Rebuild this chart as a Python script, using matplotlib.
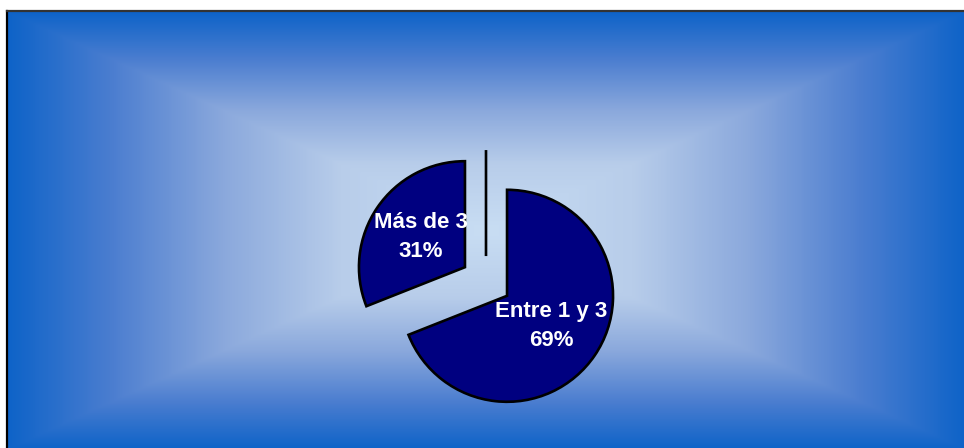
import matplotlib.pyplot as plt
import numpy as np
from matplotlib.colors import LinearSegmentedColormap

plt.rcParams['font.family'] = ['Liberation Sans', 'DejaVu Sans']

# trips per period
categories = ["Entre 1 y 3", "Más de 3", ""]
values = [69, 31, 0]

fig = plt.figure(figsize=(9.64, 4.48), dpi=100)
ax = fig.add_axes([0, 0, 1, 1])

# rectangular "from centre" gradient behind the pie
left, right, bottom, top = 7, 966, -2, 437
nx, ny = 480, 220
gx = np.abs(np.linspace(-1, 1, nx))
gy = np.abs(np.linspace(-1, 1, ny))
grad = np.maximum(gx[None, :], gy[:, None])
cmap = LinearSegmentedColormap.from_list("box", [
    (0.0, (200/255, 221/255, 243/255)),
    (0.3, (184/255, 205/255, 234/255)),
    (0.55, (138/255, 168/255, 220/255)),
    (0.78, (76/255, 126/255, 208/255)),
    (1.0, (14/255, 99/255, 200/255)),
])
ax.imshow(grad, cmap=cmap, extent=(left, right, bottom, top),
          aspect="auto", interpolation="bilinear", zorder=0)
ax.plot([left, left], [bottom, top], color="black", lw=1.6, zorder=1)
ax.plot([left, right], [top, top], color="#333333", lw=1.6, zorder=1)

radius = 106
labels = [f"{c}\n{v / sum(values) * 100:.0f}%" if v else ""
          for c, v in zip(categories, values)]
wedges, texts = ax.pie(
    values, labels=labels, labeldistance=0.5,
    explode=[0.24 * radius] * len(values), startangle=90, counterclock=False,
    center=(486, 166.5), radius=radius, frame=True,
    colors=["#000080"] * len(values),
    wedgeprops=dict(edgecolor="black", linewidth=1.9),
    textprops=dict(color="white", fontsize=16, fontweight="bold",
                   ha="center", va="center", linespacing=1.5),
)
for w in wedges:
    w.set_zorder(2)
for t in texts:
    t.set_zorder(3)

ax.set_xlim(0, 964)
ax.set_ylim(0, 448)
ax.set_aspect("auto")
ax.axis("off")

fig.savefig("out.png", dpi=100)
